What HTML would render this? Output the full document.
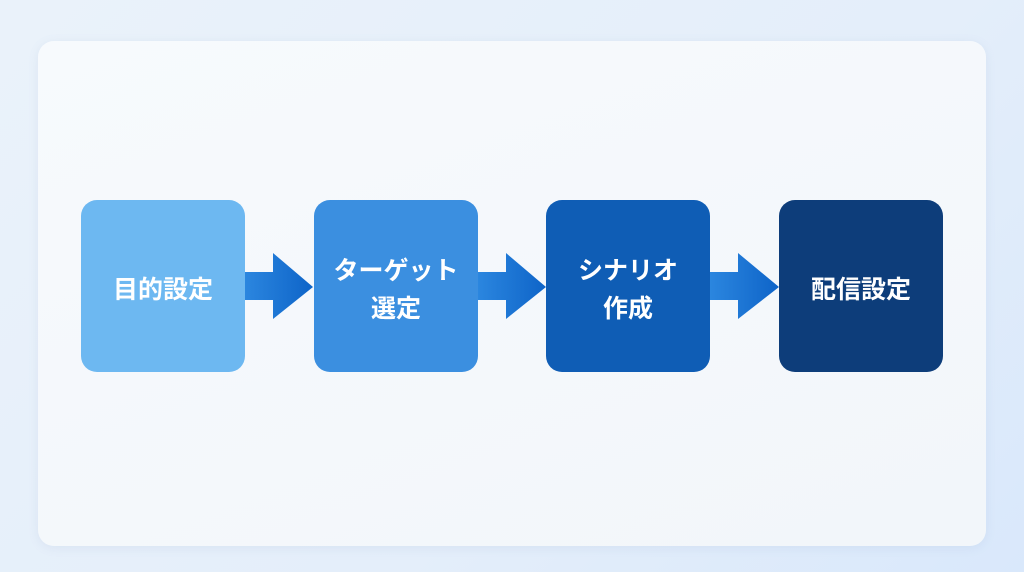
<!DOCTYPE html>
<html><head><meta charset="utf-8"><style>
body{margin:0;width:1024px;height:572px;overflow:hidden;background:linear-gradient(135deg,#eaf2fa,#e4eefa 60%,#d9e8fb);font-family:"Liberation Sans","Noto Sans CJK JP",sans-serif;}
.card{position:absolute;left:38px;top:41px;width:948px;height:505px;border-radius:16px;background:linear-gradient(160deg,#f7fafd,#f2f6fa);box-shadow:0 2px 10px rgba(120,150,190,0.12);}
.b{position:absolute;top:200px;width:164px;height:172px;border-radius:16px;display:flex;align-items:center;justify-content:center;text-align:center;color:#fff;font-weight:bold;font-size:25px;line-height:38px;box-sizing:border-box;padding-top:8px;}
svg{position:absolute;left:0;top:0}
</style></head><body>
<div class="card"></div>
<svg width="1024" height="572">
<defs><linearGradient id="g" x1="0" x2="1"><stop offset="0" stop-color="#2b86df"/><stop offset="1" stop-color="#0e64c8"/></linearGradient></defs>
<g fill="url(#g)">
<polygon points="245,272 273,272 273,253 313,287 273,319 273,300 245,300"/>
<polygon points="478,272 506,272 506,253 546,287 506,319 506,300 478,300"/>
<polygon points="710,272 738,272 738,253 779,287 738,319 738,300 710,300"/>
</g>
</svg>
<div class="b" style="left:81px;background:#6db8f1">目的設定</div>
<div class="b" style="left:314px;background:#3b8fe0">ターゲット<br>選定</div>
<div class="b" style="left:546px;background:#0f5db5">シナリオ<br>作成</div>
<div class="b" style="left:779px;background:#0d3d7a">配信設定</div>
</body></html>
